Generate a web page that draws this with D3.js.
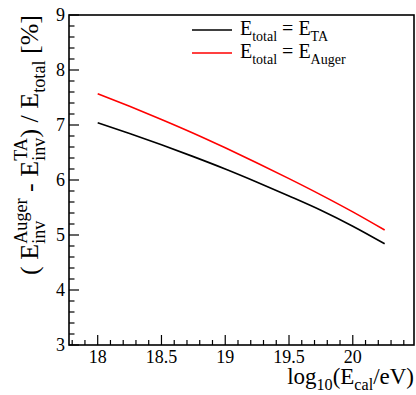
<!DOCTYPE html>
<html>
<head>
<meta charset="utf-8">
<script src="https://cdn.jsdelivr.net/npm/d3@7"></script>
<style>
  html, body { margin: 0; padding: 0; background: #fff; }
  svg { display: block; }
  text { font-family: "Liberation Serif", "Times New Roman", serif; fill: #000; }
</style>
</head>
<body>
<svg id="chart" width="416" height="395"></svg>
<script>
// log10 of calorimetric energy
const logE = [18.0, 18.25, 18.5, 18.75, 19.0, 19.25, 19.5, 19.75, 20.0, 20.25];
// relative invisible-energy difference [%], normalised to E_TA
const diffTA = [7.04, 6.845, 6.64, 6.425, 6.20, 5.96, 5.71, 5.45, 5.16, 4.84];
// relative invisible-energy difference [%], normalised to E_Auger
const diffAuger = [7.57, 7.34, 7.10, 6.85, 6.585, 6.31, 6.025, 5.73, 5.42, 5.09];

const xTicks = [18, 18.5, 19, 19.5, 20];
const xTickLabels = ["18", "18.5", "19", "19.5", "20"];
const yTicks = [3, 4, 5, 6, 7, 8, 9];

(function draw() {
  const FONT = "'Liberation Serif', 'Times New Roman', serif";
  const svg = d3.select("#chart");
  const padL = 69, padR = 414, padT = 15, padB = 345;

  const x = d3.scaleLinear().domain([17.775, 20.48]).range([padL, padR]);
  const y = d3.scaleLinear().domain([3, 9]).range([padB, padT]);

  // minor ticks
  const xMinor = d3.range(17.8, 20.48, 0.1).map(v => +v.toFixed(2));
  const yMinor = d3.range(3, 9.001, 0.2).map(v => +v.toFixed(2));

  const g = svg.append("g");

  g.selectAll("line.xminor").data(xMinor).join("line")
    .attr("x1", d => x(d)).attr("x2", d => x(d))
    .attr("y1", padB).attr("y2", d => padB - (xTicks.some(t => Math.abs(t - d) < 1e-6) ? 10 : 5))
    .attr("stroke", "#000").attr("stroke-width", 1.2);

  g.selectAll("line.yminor").data(yMinor).join("line")
    .attr("y1", d => y(d)).attr("y2", d => y(d))
    .attr("x1", padL).attr("x2", d => padL + (Math.abs(d - Math.round(d)) < 1e-6 ? 10 : 5.5))
    .attr("stroke", "#000").attr("stroke-width", 1.2);

  // frame
  g.append("rect")
    .attr("x", padL).attr("y", padT)
    .attr("width", padR - padL).attr("height", padB - padT)
    .attr("fill", "none").attr("stroke", "#000").attr("stroke-width", 1.6);

  // tick labels
  g.selectAll("text.xl").data(xTicks).join("text")
    .attr("x", d => x(d)).attr("y", 363)
    .attr("text-anchor", "middle").attr("font-size", 18).attr("font-family", FONT)
    .text((d, i) => xTickLabels[i]);

  g.selectAll("text.yl").data(yTicks).join("text")
    .attr("x", 65).attr("y", d => y(d) + 6)
    .attr("text-anchor", "end").attr("font-size", 18).attr("font-family", FONT)
    .text(d => d);

  // curves
  const line = d3.line().x((d, i) => x(logE[i])).y(d => y(d)).curve(d3.curveMonotoneX);
  g.append("path").datum(diffTA).attr("d", line)
    .attr("fill", "none").attr("stroke", "#000").attr("stroke-width", 1.6);
  g.append("path").datum(diffAuger).attr("d", line)
    .attr("fill", "none").attr("stroke", "#ff0000").attr("stroke-width", 1.6);

  // rich text helper: lays out runs horizontally, supporting sub/sup stacks
  function richText(parent, parts, size) {
    const grp = parent.append("g");
    const small = size * 0.7;
    let cx = 0;
    parts.forEach(p => {
      if (p.t !== undefined) {
        const t = grp.append("text").attr("x", cx).attr("y", 0)
          .attr("font-size", size).attr("font-family", FONT)
          .style("white-space", "pre").text(p.t);
        cx += t.node().getComputedTextLength();
      } else {
        let w = 0;
        if (p.sup) {
          const t = grp.append("text").attr("x", cx).attr("y", -size * 0.42)
            .attr("font-size", small).attr("font-family", FONT).text(p.sup);
          w = Math.max(w, t.node().getComputedTextLength());
        }
        if (p.sub) {
          const t = grp.append("text").attr("x", cx).attr("y", size * 0.28)
            .attr("font-size", small).attr("font-family", FONT).text(p.sub);
          w = Math.max(w, t.node().getComputedTextLength());
        }
        cx += w;
      }
    });
    return { grp, width: cx };
  }

  // x axis title
  const xt = richText(svg, [{ t: "log" }, { sub: "10" }, { t: "(E" }, { sub: "cal" }, { t: "/eV)" }], 23);
  xt.grp.attr("transform", `translate(${padR - xt.width},384)`);

  // y axis title
  const yt = richText(svg, [
    { t: "( E" }, { sup: "Auger", sub: "inv" }, { t: " - E" }, { sup: "TA", sub: "inv" },
    { t: ") / E" }, { sub: "total" }, { t: " [%]" }
  ], 26);
  yt.grp.attr("transform", `translate(38,${padT + yt.width}) rotate(-90)`);

  // legend
  const legend = [
    { color: "#000", sub1: "total", sub2: "TA", y: 30 },
    { color: "#ff0000", sub1: "total", sub2: "Auger", y: 53 }
  ];
  legend.forEach(l => {
    svg.append("line").attr("x1", 192).attr("x2", 232).attr("y1", l.y).attr("y2", l.y)
      .attr("stroke", l.color).attr("stroke-width", 1.6);
    const r = richText(svg, [{ t: "E" }, { sub: l.sub1 }, { t: " = E" }, { sub: l.sub2 }], 20);
    r.grp.attr("transform", `translate(240,${l.y + 5})`);
  });
})();
</script>
</body>
</html>
